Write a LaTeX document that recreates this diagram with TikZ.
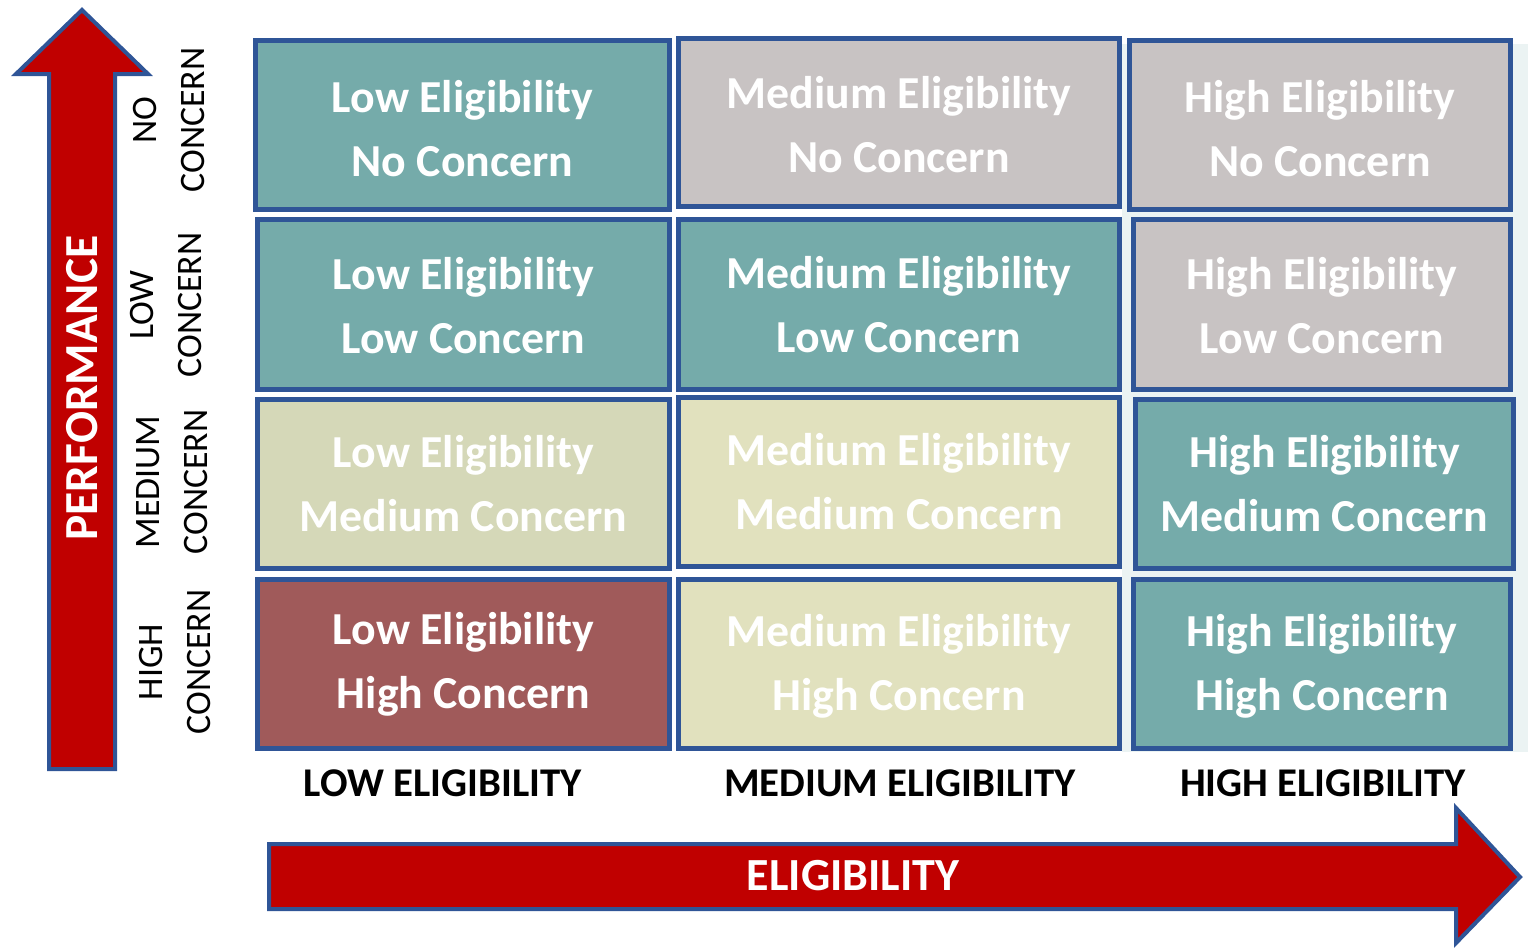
\documentclass[tikz,border=0pt]{standalone}
\usepackage{fontspec}
\setmainfont{Carlito}
\definecolor{edgeblue}{HTML}{2F5597}
\definecolor{arrowred}{HTML}{C00000}
\definecolor{tealcell}{HTML}{75ABAA}
\definecolor{graycell}{HTML}{C8C3C3}
\definecolor{khakicell}{HTML}{D5D8B8}
\definecolor{creamcell}{HTML}{E1E1BE}
\definecolor{rosecell}{HTML}{A05A5A}
\definecolor{gridback}{HTML}{EBF3F3}

% one matrix cell: name, x1, y1, x2, y2 (outer edges), fill, first line, second line,
% vertical nudge of the text (in px units, downward positive)
\newcommand\matcell[9]{%
  \pgfmathsetmacro\cellwd{(#4-#2-5)*0.5}%
  \pgfmathsetmacro\cellht{(#5-#3-5)*0.5}%
  \node[cellbox, fill=#6, minimum width=\cellwd pt, minimum height=\cellht pt]
    (#1) at ({(#2+#4)/2},{(#3+#5)/2}) {};%
  \node[celltext] (#1txt) at ([yshift=-#9*0.5pt]#1.center) {#7\\#8};%
}

\begin{document}
\begin{tikzpicture}[x=0.5pt, y=-0.5pt,
  cellbox/.style={draw=edgeblue, line width=2.5pt, inner sep=0pt},
  celltext/.style={text=white, align=center, inner sep=0pt,
    font=\bfseries\fontsize{22.9}{32}\selectfont},
  bigarrow/.style={draw=edgeblue, fill=arrowred, line width=2pt, line join=miter},
  arrowtext/.style={text=white, font=\bfseries\fontsize{23}{28}\selectfont, inner sep=0pt},
  rowlabel/.style={rotate=90, align=center, inner sep=0pt,
    font=\fontsize{17.9}{24}\selectfont},
  collabel/.style={inner sep=0pt, font=\bfseries\fontsize{20.4}{24}\selectfont}]

\useasboundingbox (0,0) rectangle (1531,948);

% faint panel behind the right-hand column
\fill[gridback] (1122,44) rectangle (1528,752);

% performance axis (upward arrow)
\draw[bigarrow] (49,769) -- (49,74) -- (16,74) -- (82,10) -- (148,74)
  -- (115,74) -- (115,769) -- cycle;
\node[arrowtext, rotate=90, font=\bfseries\fontsize{23.7}{28}\selectfont]
  (perf) at (82,388) {PERFORMANCE};

% eligibility axis (rightward arrow)
\draw[bigarrow] (269,844) -- (1456,844) -- (1456,808) -- (1520,877)
  -- (1456,943) -- (1456,909) -- (269,909) -- cycle;
\node[arrowtext] (elig) at (853,876) {ELIGIBILITY};

% row labels
\node[rowlabel] (rowno)   at (169,120) {NO\\CONCERN};
\node[rowlabel] (rowlow)  at (166.5,305) {LOW\\CONCERN};
\node[rowlabel] (rowmed)  at (172.5,482) {MEDIUM\\CONCERN};
\node[rowlabel] (rowhigh) at (175,662) {HIGH\\CONCERN};

% column labels
\node[collabel] (collow)  at (443,783) {LOW ELIGIBILITY};
\node[collabel] (colmed)  at (900,783) {MEDIUM ELIGIBILITY};
\node[collabel] (colhigh) at (1323,783) {HIGH ELIGIBILITY};

% the 3 x 4 matrix
\matcell{lowno}{253}{38}{672}{212}{tealcell}{Low Eligibility}{No Concern}{4}
\matcell{medno}{676}{36}{1122}{209}{graycell}{Medium Eligibility}{No Concern}{2}
\matcell{highno}{1127}{38}{1513}{212}{graycell}{High Eligibility}{No Concern}{4}

\matcell{lowlow}{255}{217}{672}{392}{tealcell}{Low Eligibility}{Low Concern}{1}
\matcell{medlow}{676}{217}{1122}{392}{tealcell}{Medium Eligibility}{Low Concern}{0}
\matcell{highlow}{1131}{217}{1513}{392}{graycell}{High Eligibility}{Low Concern}{1}

\matcell{lowmed}{255}{397}{672}{571}{khakicell}{Low Eligibility}{Medium Concern}{0}
\matcell{medmed}{676}{395}{1122}{569}{creamcell}{Medium Eligibility}{Medium Concern}{0}
\matcell{highmed}{1133}{397}{1516}{571}{tealcell}{High Eligibility}{Medium Concern}{0}

\matcell{lowhigh}{255}{577}{672}{751}{rosecell}{Low Eligibility}{High Concern}{0}
\matcell{medhigh}{676}{577}{1122}{751}{creamcell}{Medium Eligibility}{High Concern}{2}
\matcell{highhigh}{1131}{577}{1513}{751}{tealcell}{High Eligibility}{High Concern}{2}

\end{tikzpicture}
\end{document}
